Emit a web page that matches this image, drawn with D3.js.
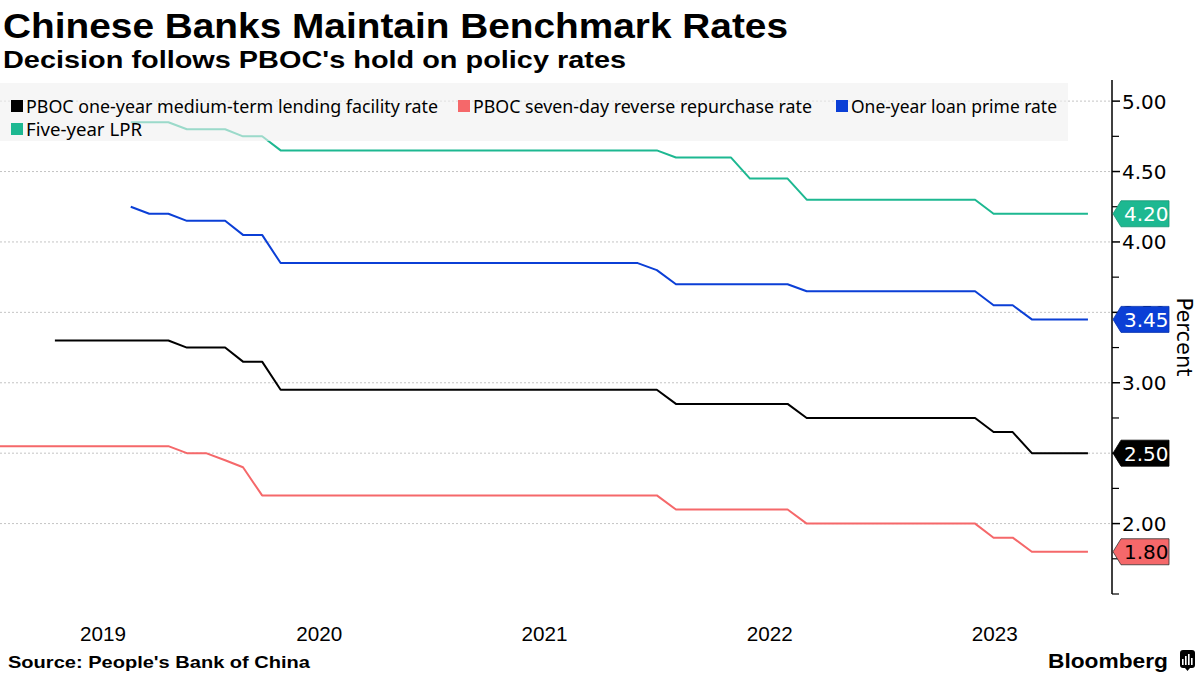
<!DOCTYPE html>
<html>
<head>
<meta charset="utf-8">
<script src="https://cdn.jsdelivr.net/npm/d3@7"></script>
<style>
  html, body { margin: 0; padding: 0; background: #fff; }
  svg { display: block; }
</style>
</head>
<body>
<svg id="chart" width="1200" height="675"></svg>
<script>
// ---------- DATA ----------
const startMonth = "2019-01";   // first monthly observation (month-end)
const monthCount = 59;          // Jan 2019 .. Nov 2023

const rep = (v, n) => Array(n).fill(v);

// PBOC one-year MLF rate
const mlfRate = [].concat(
  rep(null, 3), rep(3.30, 7), rep(3.25, 2),            // 2019
  rep(3.25, 1), rep(3.15, 2), rep(2.95, 9),            // 2020
  rep(2.95, 12),                                       // 2021
  rep(2.85, 7), rep(2.75, 5),                          // 2022
  rep(2.75, 5), rep(2.65, 2), rep(2.50, 4)             // 2023
);
// PBOC seven-day reverse repo rate
const repoRate = [].concat(
  rep(2.55, 10), rep(2.50, 2),
  [2.45, 2.40], rep(2.20, 10),
  rep(2.20, 12),
  rep(2.10, 7), rep(2.00, 5),
  rep(2.00, 5), rep(1.90, 2), rep(1.80, 4)
);
// One-year loan prime rate
const lpr1y = [].concat(
  rep(null, 7), [4.25], rep(4.20, 2), rep(4.15, 2),
  rep(4.15, 1), rep(4.05, 2), rep(3.85, 9),
  rep(3.85, 11), [3.80],
  rep(3.70, 7), rep(3.65, 5),
  rep(3.65, 5), rep(3.55, 2), rep(3.45, 4)
);
// Five-year LPR
const lpr5y = [].concat(
  rep(null, 7), rep(4.85, 3), rep(4.80, 2),
  rep(4.80, 1), rep(4.75, 2), rep(4.65, 9),
  rep(4.65, 12),
  rep(4.60, 4), rep(4.45, 3), rep(4.30, 5),
  rep(4.30, 5), rep(4.20, 6)
);

const seriesNames = [
  "PBOC one-year medium-term lending facility rate",
  "PBOC seven-day reverse repurchase rate",
  "One-year loan prime rate",
  "Five-year LPR"
];
const seriesColors = ["#000000", "#f5686a", "#0b3fd6", "#1db891"];
const seriesValues = [mlfRate, repoRate, lpr1y, lpr5y];
const tagTextColors = ["#ffffff", "#000000", "#ffffff", "#ffffff"];

const yTicks = [2.00, 2.50, 3.00, 3.50, 4.00, 4.50, 5.00];
const yMinorTicks = [1.50, 1.75, 2.25, 2.75, 3.25, 3.75, 4.25, 4.75];
const yearLabels = ["2019", "2020", "2021", "2022", "2023"];

const titleText = "Chinese Banks Maintain Benchmark Rates";
const subtitleText = "Decision follows PBOC's hold on policy rates";
const sourceText = "Source: People's Bank of China";
const yAxisTitle = "Percent";

// ---------- SETUP ----------
const svg = d3.select("#chart");
const plot = { left: 0, right: 1112, top: 80, bottom: 594 };

const parseMonth = d3.timeParse("%Y-%m");
const m0 = parseMonth(startMonth);
const dates = d3.range(monthCount).map(i => d3.timeDay.offset(d3.timeMonth.offset(m0, i + 1), -1));

const x = d3.scaleTime()
  .domain([new Date(2019, 0, 31), new Date(2024, 0, 8)])
  .range([plot.left, plot.right]);
const y = d3.scaleLinear()
  .domain([1.5, 5.15])
  .range([plot.bottom, plot.top]);

// ---------- TITLES ----------
svg.append("text")
  .attr("x", 3).attr("y", 38)
  .attr("font-family", "Liberation Sans, Arial, sans-serif")
  .attr("font-weight", "bold").attr("font-size", 35)
  .attr("textLength", 785).attr("lengthAdjust", "spacingAndGlyphs")
  .text(titleText);
svg.append("text")
  .attr("x", 3).attr("y", 68)
  .attr("font-family", "Liberation Sans, Arial, sans-serif")
  .attr("font-weight", "bold").attr("font-size", 24)
  .attr("textLength", 623).attr("lengthAdjust", "spacingAndGlyphs")
  .text(subtitleText);

// ---------- GRID ----------
const grid = svg.append("g");
grid.selectAll("line").data(yTicks).join("line")
  .attr("x1", plot.left).attr("x2", plot.right)
  .attr("y1", d => y(d)).attr("y2", d => y(d))
  .attr("stroke", "#c4c4c4").attr("stroke-width", 1)
  .attr("stroke-dasharray", "2,2");

// ---------- LINES ----------
const line = d3.line()
  .defined(d => d.v != null)
  .x(d => x(d.date))
  .y(d => y(d.v));

const seriesData = seriesValues.map((vals, i) => ({
  name: seriesNames[i],
  color: seriesColors[i],
  points: vals.map((v, j) => ({ date: dates[j], v }))
}));

svg.append("g").selectAll("path").data(seriesData).join("path")
  .attr("d", d => line(d.points))
  .attr("fill", "none")
  .attr("stroke", d => d.color)
  .attr("stroke-width", 2)
  .attr("stroke-linejoin", "round");

// ---------- LEGEND ----------
const legend = svg.append("g");
legend.append("rect")
  .attr("x", 0).attr("y", 83).attr("width", 1068).attr("height", 58)
  .attr("fill", "rgb(240,240,240)").attr("fill-opacity", 0.6);

const legendItems = [
  { i: 0, x: 11, y: 100, w: 412 },
  { i: 1, x: 458, y: 100, w: 339 },
  { i: 2, x: 836, y: 100, w: 206 },
  { i: 3, x: 11, y: 123, w: 116 }
];
const li = legend.selectAll("g.item").data(legendItems).join("g").attr("class", "item");
li.append("rect")
  .attr("x", d => d.x).attr("y", d => d.y)
  .attr("width", 12).attr("height", 12)
  .attr("fill", d => seriesColors[d.i]);
li.append("text")
  .attr("x", d => d.x + 15).attr("y", d => d.y + 12.5)
  .attr("font-family", "Noto Sans, Open Sans, sans-serif")
  .attr("font-size", 18)
  .attr("textLength", d => d.w).attr("lengthAdjust", "spacingAndGlyphs")
  .attr("fill", "#000")
  .text(d => seriesNames[d.i]);

// ---------- Y AXIS (right) ----------
const yAxisG = svg.append("g").attr("transform", `translate(${plot.right},0)`);
yAxisG.append("line")
  .attr("x1", 0).attr("x2", 0).attr("y1", plot.top).attr("y2", plot.bottom)
  .attr("stroke", "#000").attr("stroke-width", 1.5);
yAxisG.selectAll("line.minor").data(yMinorTicks).join("line").attr("class", "minor")
  .attr("x1", 0).attr("x2", 7).attr("y1", d => y(d)).attr("y2", d => y(d))
  .attr("stroke", "#000").attr("stroke-width", 1.2);
yAxisG.selectAll("line.major").data(yTicks).join("line").attr("class", "major")
  .attr("x1", 0).attr("x2", 8).attr("y1", d => y(d)).attr("y2", d => y(d))
  .attr("stroke", "#000").attr("stroke-width", 1.5);
yAxisG.selectAll("text").data(yTicks).join("text")
  .attr("x", 10).attr("y", d => y(d) + 7.5)
  .attr("font-family", "DejaVu Sans, Verdana, sans-serif")
  .attr("font-size", 20)
  .attr("fill", "#000")
  .text(d => d3.format(".2f")(d));

svg.append("text")
  .attr("transform", `translate(1177,${(plot.top + plot.bottom) / 2}) rotate(90)`)
  .attr("text-anchor", "middle")
  .attr("font-family", "DejaVu Sans, Verdana, sans-serif")
  .attr("font-size", 21)
  .text(yAxisTitle);

// ---------- VALUE TAGS ----------
const lastVals = seriesData.map((s, i) => ({ i, v: s.points[s.points.length - 1].v }));
const tags = svg.append("g").selectAll("g").data(lastVals).join("g")
  .attr("transform", d => `translate(${plot.right + 1},${y(d.v)})`);
tags.append("path")
  .attr("d", "M0,0 L8,-13 L56,-13 L56,13 L8,13 Z")
  .attr("fill", d => seriesColors[d.i])
  .attr("stroke", d => d.i === 1 ? "#333" : d3.color(seriesColors[d.i]).darker(0.6))
  .attr("stroke-width", 0.8);
tags.append("text")
  .attr("x", 11).attr("y", 7.5)
  .attr("font-family", "DejaVu Sans, Verdana, sans-serif")
  .attr("font-size", 20)
  .attr("fill", d => tagTextColors[d.i])
  .text(d => d3.format(".2f")(d.v));

// ---------- X AXIS (year labels centred on visible part of each year) ----------
const [d0, d1] = x.domain();
svg.append("g").selectAll("text").data(yearLabels).join("text")
  .attr("x", d => {
    const a = new Date(+d, 0, 1), b = new Date(+d, 11, 31);
    const s = a < d0 ? d0 : a, e = b > d1 ? d1 : b;
    return (x(s) + x(e)) / 2;
  })
  .attr("y", 641)
  .attr("text-anchor", "middle")
  .attr("font-family", "Liberation Sans, Arial, sans-serif")
  .attr("font-size", 21)
  .attr("textLength", 46).attr("lengthAdjust", "spacingAndGlyphs")
  .text(d => d);

// ---------- FOOTER ----------
svg.append("text")
  .attr("x", 8).attr("y", 668)
  .attr("font-family", "Liberation Sans, Arial, sans-serif")
  .attr("font-weight", "bold").attr("font-size", 17)
  .attr("textLength", 302).attr("lengthAdjust", "spacingAndGlyphs")
  .text(sourceText);
svg.append("text")
  .attr("x", 1048).attr("y", 668)
  .attr("font-family", "Liberation Sans, Arial, sans-serif")
  .attr("font-weight", "bold").attr("font-size", 21)
  .attr("textLength", 120).attr("lengthAdjust", "spacingAndGlyphs")
  .text("Bloomberg");
const logo = svg.append("g").attr("transform", "translate(1180,650)");
logo.append("rect").attr("x", 0).attr("y", 0).attr("width", 15).attr("height", 18).attr("rx", 3).attr("fill", "#000");
logo.append("path").attr("d", "M5,18 L7.5,21 L10,18 Z").attr("fill", "#000");
[[3, 9], [6, 6], [9, 4], [12, 8]].forEach(([bx, by]) => {
  logo.append("rect").attr("x", bx - 1).attr("y", by).attr("width", 1.6).attr("height", 15 - by).attr("fill", "#fff");
});
</script>
</body>
</html>
